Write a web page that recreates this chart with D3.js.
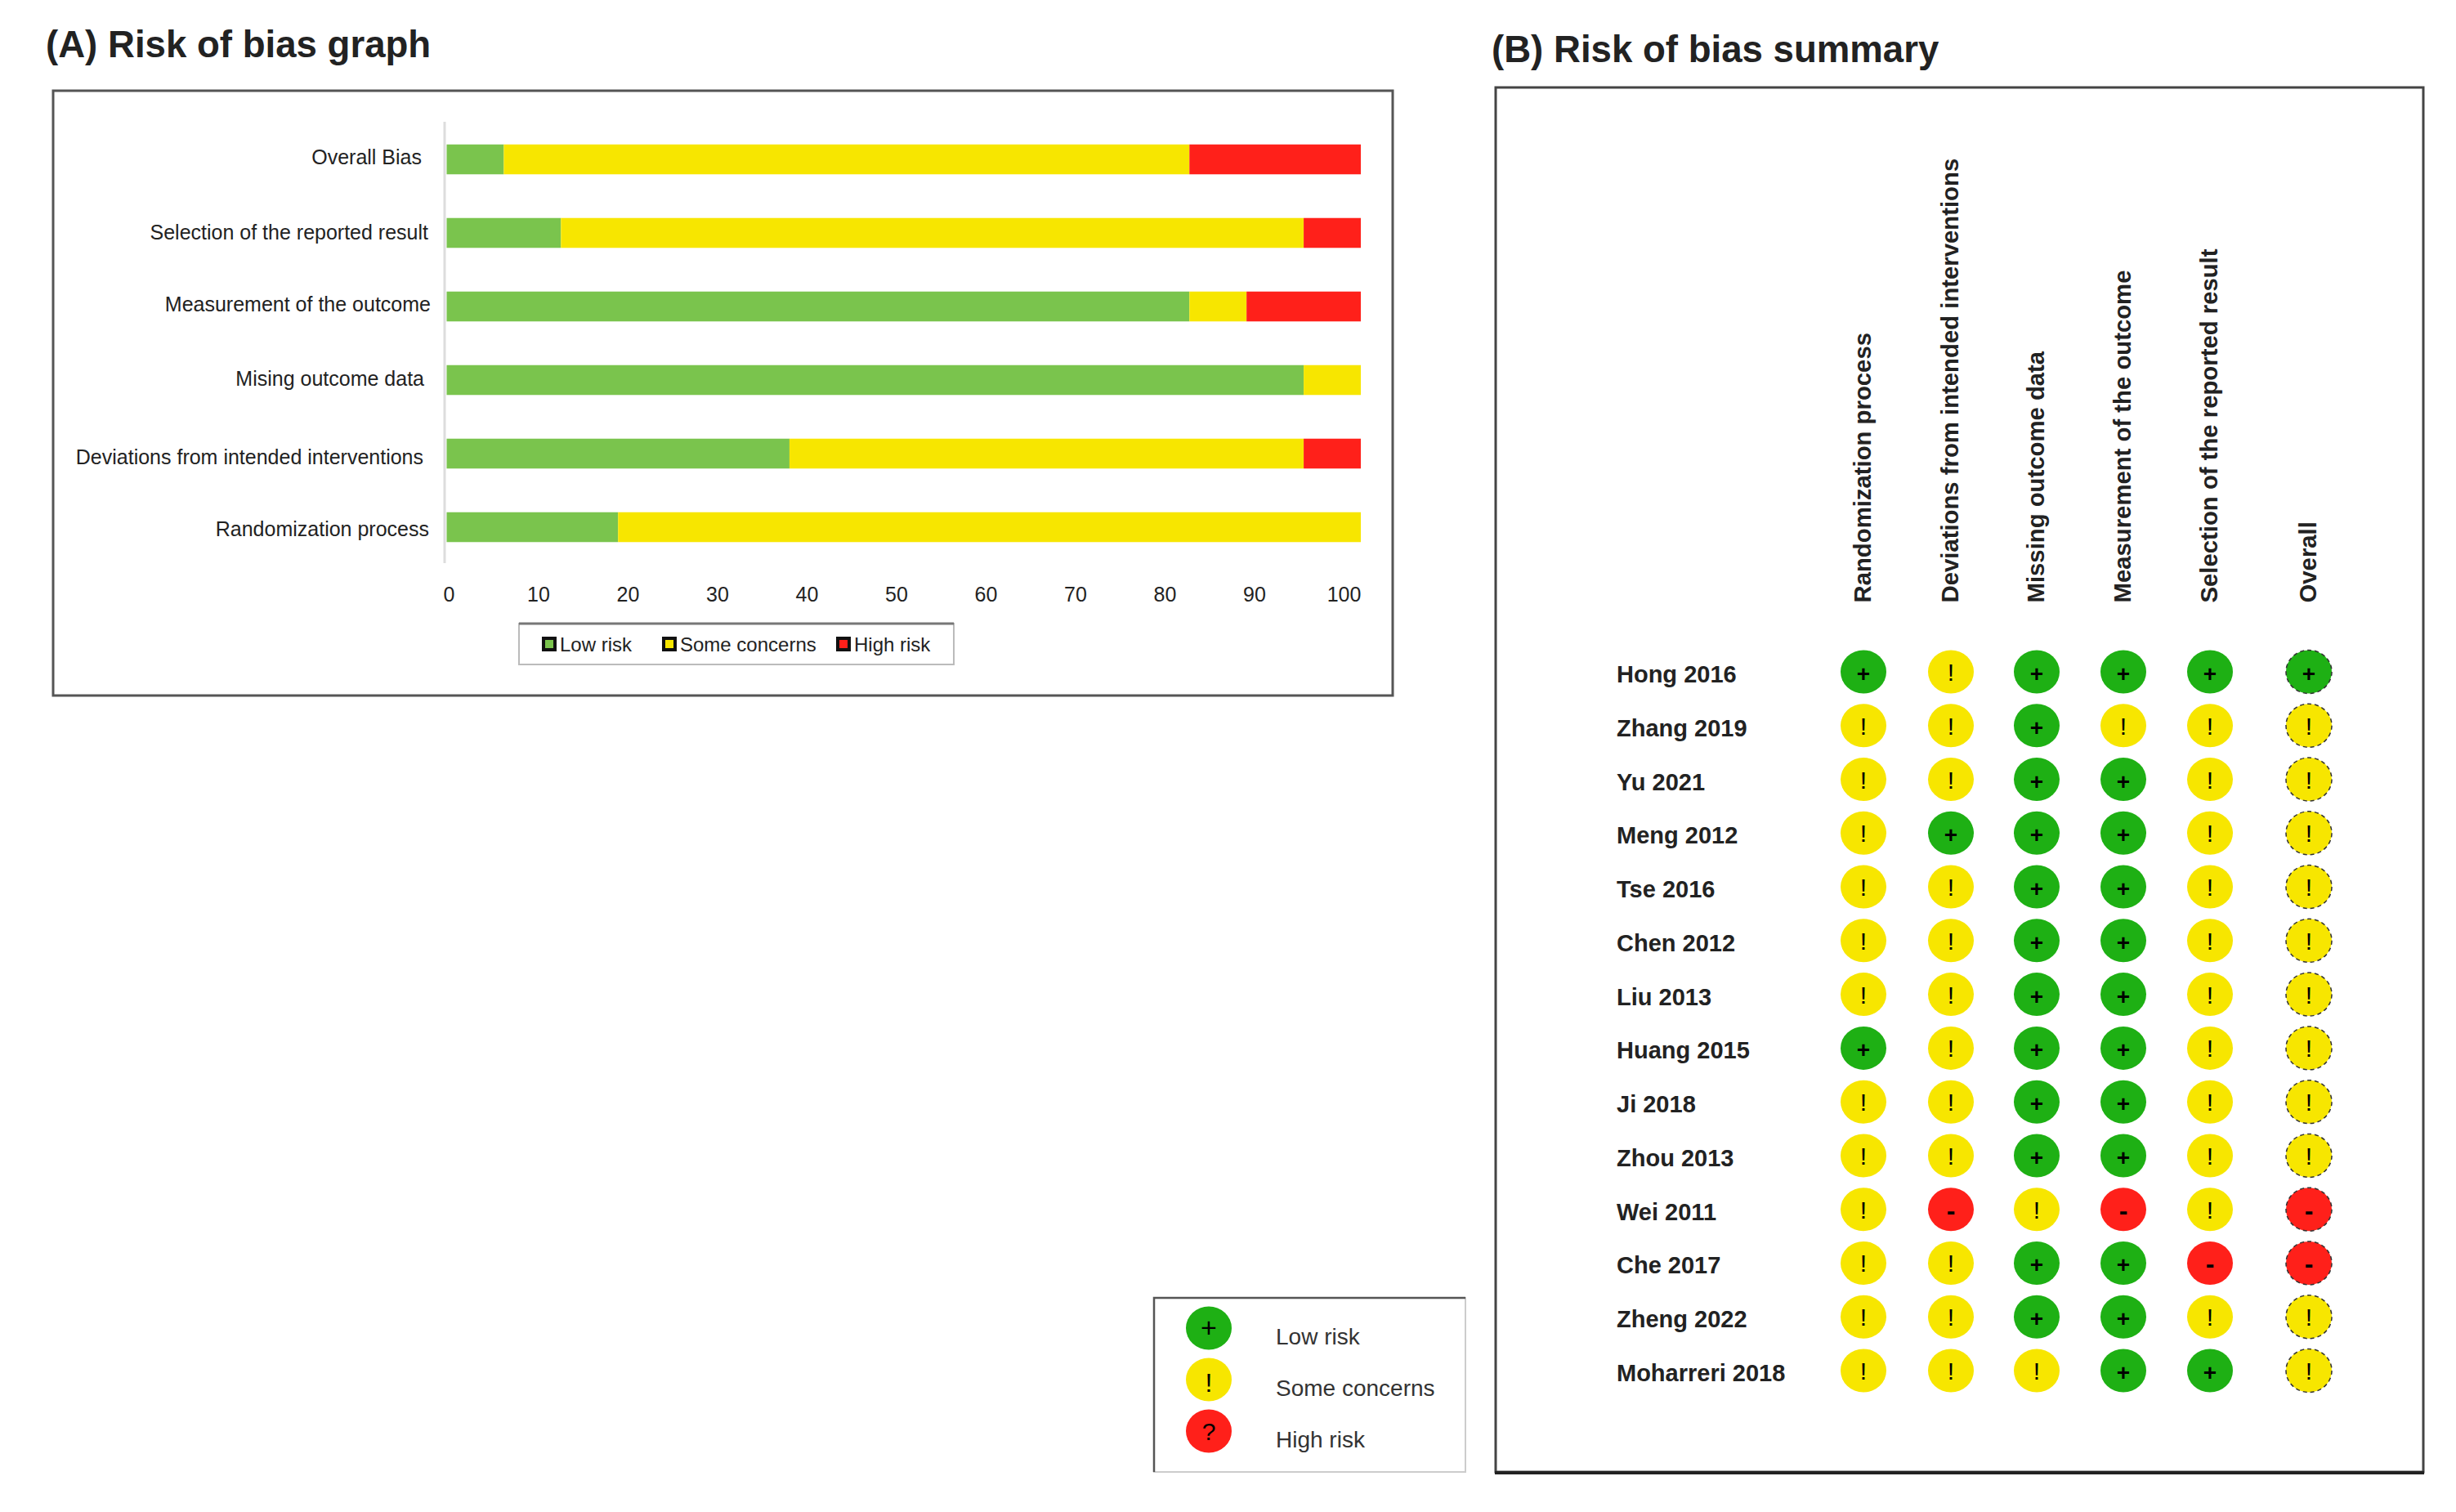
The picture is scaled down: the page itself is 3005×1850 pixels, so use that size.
<!DOCTYPE html>
<html>
<head>
<meta charset="utf-8">
<script src="https://cdn.jsdelivr.net/npm/d3@7"></script>
<style>
	body { margin: 0; background: #fff; }
	svg { display: block; }
	text { font-family: "Liberation Sans", Arial, sans-serif; fill: #222; }
</style>
</head>
<body>
<div id="chart-area"></div>
<script>
// Panel A: percentage of studies per domain, top row first
var domains = ["Overall Bias", "Selection of the reported result", "Measurement of the outcome",
	"Mising outcome data", "Deviations from intended interventions", "Randomization process"];
var lowRisk = [6.25, 12.5, 81.25, 93.75, 37.5, 18.75];
var someConcerns = [75, 81.25, 6.25, 6.25, 56.25, 81.25];
var highRisk = [18.75, 6.25, 12.5, 0, 6.25, 0];
var xTicks = [0, 10, 20, 30, 40, 50, 60, 70, 80, 90, 100];
var riskNames = ["Low risk", "Some concerns", "High risk"];

// Panel B: judgement per study and domain
var columns = ["Randomization process", "Deviations from intended interventions", "Missing outcome data",
	"Measurement of the outcome", "Selection of the reported result", "Overall"];
var studies = ["Hong 2016", "Zhang 2019", "Yu 2021", "Meng 2012", "Tse 2016", "Chen 2012", "Liu 2013",
	"Huang 2015", "Ji 2018", "Zhou 2013", "Wei 2011", "Che 2017", "Zheng 2022", "Moharreri 2018"];
var judgements = [
	"+!++++",
	"!!+!!!",
	"!!++!!",
	"!+++!!",
	"!!++!!",
	"!!++!!",
	"!!++!!",
	"+!++!!",
	"!!++!!",
	"!!++!!",
	"!-!-!-",
	"!!++--",
	"!!++!!",
	"!!!++!"
];
var legendGlyphs = ["+", "!", "?"];

// the source figure is hand assembled, labels sit a little off the bars
var labelNudge = [[-7, -3], [1, -1], [4, -3], [-4, -2], [-5, 4], [2, 2]];
var columnX = [2280, 2387, 2492, 2598, 2704, 2825];
var legendSwatchX = [663, 810, 1023];

var barColor = { low: "#7ac44d", some: "#f7e600", high: "#ff201a" };
var dotColor = { "+": "#1eb014", "!": "#f7e600", "-": "#ff201a", "?": "#ff201a" };
// font size, weight and baseline offset of the glyph inside a dot
var glyphStyle = {
	"+": { size: 28, weight: "bold", dy: 12 },
	"!": { size: 30, weight: "normal", dy: 11 },
	"-": { size: 32, weight: "bold", dy: 12 }
};
var keyGlyphStyle = {
	"+": { size: 34, weight: "normal", dy: 11 },
	"!": { size: 32, weight: "normal", dy: 15 },
	"?": { size: 30, weight: "normal", dy: 11 }
};

var svg = d3.select("#chart-area")
	.append("svg")
	.attr("width", 3005)
	.attr("height", 1850);

svg.append("rect").attr("width", 3005).attr("height", 1850).attr("fill", "#fff");

svg.append("text")
	.attr("x", 56).attr("y", 70)
	.attr("font-size", "45.6px").attr("font-weight", "bold")
	.text("(A) Risk of bias graph");

svg.append("text")
	.attr("x", 1825).attr("y", 76)
	.attr("font-size", "45.6px").attr("font-weight", "bold")
	.text("(B) Risk of bias summary");

function frame(x0, y0, x1, y1, stroke, width) {
	svg.append("rect")
		.attr("x", x0).attr("y", y0)
		.attr("width", x1 - x0).attr("height", y1 - y0)
		.attr("fill", "none")
		.attr("stroke", stroke)
		.attr("stroke-width", width);
}

frame(65, 111, 1704, 851, "#555", 3);
frame(1830, 107, 2965, 1801, "#444", 3);
svg.append("line")
	.attr("x1", 1829).attr("x2", 2966)
	.attr("y1", 1802).attr("y2", 1802)
	.attr("stroke", "#222")
	.attr("stroke-width", 4);

// ---- panel A ----
var xBar = d3.scaleLinear().domain([0, 100]).range([546.5, 1665]);
// the printed tick labels run a bit shorter than the bars
var xLabel = d3.scaleLinear().domain([0, 100]).range([549, 1644]);
var yBar = d3.scaleBand().domain(domains).range([150, 690]).paddingInner(0.594).paddingOuter(0.297);

var rows = domains.map(function (d, i) {
	return { domain: d, low: lowRisk[i], some: someConcerns[i], high: highRisk[i] };
});
var stacked = d3.stack().keys(["low", "some", "high"])(rows);

svg.append("line")
	.attr("x1", 544).attr("x2", 544)
	.attr("y1", 149).attr("y2", 689)
	.attr("stroke", "#ddd")
	.attr("stroke-width", 3);

svg.selectAll("g.series")
	.data(stacked)
	.enter().append("g")
	.attr("class", "series")
	.attr("fill", function (s) { return barColor[s.key]; })
	.selectAll("rect")
	.data(function (s) { return s; })
	.enter().append("rect")
	.attr("x", function (d) { return xBar(d[0]); })
	.attr("y", function (d) { return yBar(d.data.domain); })
	.attr("width", function (d) { return xBar(d[1]) - xBar(d[0]); })
	.attr("height", yBar.bandwidth());

svg.selectAll("text.domain-label")
	.data(domains)
	.enter().append("text")
	.attr("class", "domain-label")
	.attr("x", function (d, i) { return 523 + labelNudge[i][0]; })
	.attr("y", function (d, i) { return yBar(d) + yBar.bandwidth() / 2 + labelNudge[i][1] + 9; })
	.attr("text-anchor", "end")
	.attr("font-size", "25px")
	.text(function (d) { return d; });

var xAxisG = svg.append("g")
	.attr("transform", "translate(0,718)")
	.call(d3.axisBottom(xLabel).tickValues(xTicks).tickSize(0).tickPadding(0));
xAxisG.select(".domain").remove();
xAxisG.selectAll("text")
	.attr("font-size", "25px")
	.attr("font-family", "'Liberation Sans', Arial, sans-serif")
	.attr("dy", "0.71em");

// legend under the bars
var legendA = svg.append("g");
legendA.append("rect")
	.attr("x", 635).attr("y", 763)
	.attr("width", 532).attr("height", 50)
	.attr("fill", "#fff")
	.attr("stroke", "#bbb")
	.attr("stroke-width", 2);
legendA.append("line")
	.attr("x1", 635).attr("x2", 1167)
	.attr("y1", 763).attr("y2", 763)
	.attr("stroke", "#777")
	.attr("stroke-width", 3);

legendA.selectAll("rect.swatch")
	.data(riskNames)
	.enter().append("rect")
	.attr("class", "swatch")
	.attr("x", function (d, i) { return legendSwatchX[i] + 2; })
	.attr("y", 781)
	.attr("width", 14).attr("height", 14)
	.attr("fill", function (d, i) { return barColor[["low", "some", "high"][i]]; })
	.attr("stroke", "#111")
	.attr("stroke-width", 4);

legendA.selectAll("text")
	.data(riskNames)
	.enter().append("text")
	.attr("x", function (d, i) { return legendSwatchX[i] + 22; })
	.attr("y", 797)
	.attr("font-size", "24px")
	.text(function (d) { return d; });

// ---- panel B ----
var yStudy = d3.scalePoint().domain(studies).range([822, 1677]);

svg.selectAll("text.col-label")
	.data(columns)
	.enter().append("text")
	.attr("class", "col-label")
	.attr("transform", function (d, i) {
		return "translate(" + (columnX[i] + 9) + ",737.5) rotate(-90)";
	})
	.attr("font-size", "29.3px")
	.attr("font-weight", "bold")
	.text(function (d) { return d; });

svg.selectAll("text.study-label")
	.data(studies)
	.enter().append("text")
	.attr("class", "study-label")
	.attr("x", 1978)
	.attr("y", function (d) { return yStudy(d) + 13; })
	.attr("font-size", "29px")
	.attr("font-weight", "bold")
	.text(function (d) { return d; });

function drawDot(g, glyph, style, overall) {
	g.append("ellipse")
		.attr("rx", 28)
		.attr("ry", 26.5)
		.attr("fill", dotColor[glyph])
		.attr("stroke", overall ? "#333" : "none")
		.attr("stroke-width", overall ? 1.5 : 0)
		.attr("stroke-dasharray", overall ? "5,4" : null);
	g.append("text")
		.attr("y", style.dy)
		.attr("text-anchor", "middle")
		.attr("font-size", style.size + "px")
		.attr("font-weight", style.weight)
		.style("fill", "#000")
		.text(glyph);
}

judgements.forEach(function (row, r) {
	row.split("").forEach(function (glyph, c) {
		var g = svg.append("g")
			.attr("transform", "translate(" + columnX[c] + "," + yStudy(studies[r]) + ")");
		drawDot(g, glyph, glyphStyle[glyph], c === columns.length - 1);
	});
});

// symbol key, bottom right of panel A
var key = svg.append("g");
key.append("rect")
	.attr("x", 1412).attr("y", 1588)
	.attr("width", 381).attr("height", 213)
	.attr("fill", "#fff")
	.attr("stroke", "#ccc")
	.attr("stroke-width", 2);
key.append("path")
	.attr("d", "M1412,1801V1588H1793")
	.attr("fill", "none")
	.attr("stroke", "#555")
	.attr("stroke-width", 2.5);

var yKey = d3.scalePoint().domain(riskNames).range([1625, 1751]);
riskNames.forEach(function (name, i) {
	var g = key.append("g")
		.attr("transform", "translate(1479," + yKey(name) + ")");
	drawDot(g, legendGlyphs[i], keyGlyphStyle[legendGlyphs[i]], false);
	key.append("text")
		.attr("x", 1561)
		.attr("y", yKey(name) + 20)
		.attr("font-size", "28px")
		.style("fill", "#333")
		.text(name);
});
</script>
</body>
</html>
